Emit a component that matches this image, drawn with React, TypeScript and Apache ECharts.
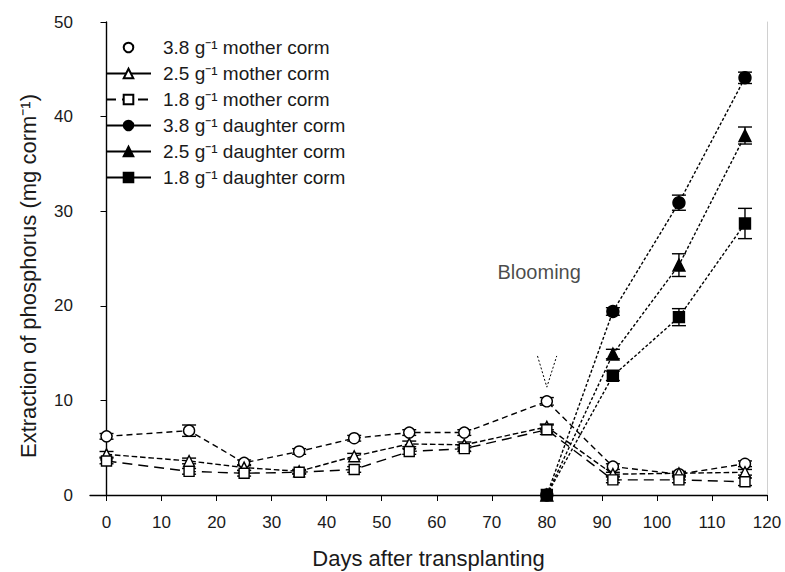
import React, { useEffect, useRef } from "react";
import * as echarts from "echarts";

const days = [0, 15, 25, 35, 45, 55, 65, 80, 92, 104, 116];
const mother38 = [6.2, 6.8, 3.4, 4.6, 6.0, 6.6, 6.6, 9.9, 3.0, 2.2, 3.3];
const mother25 = [4.3, 3.6, 2.9, 2.5, 4.1, 5.4, 5.3, 7.2, 2.2, 2.3, 2.4];
const mother18 = [3.6, 2.5, 2.3, 2.4, 2.7, 4.6, 4.9, 6.9, 1.6, 1.6, 1.4];
const mother38Err = [0.3, 0.6, 0.3, 0.3, 0.3, 0.3, 0.3, 0.4, 0.3, 0.2, 0.3];
const mother25Err = [0.3, 0.3, 0.3, 0.2, 0.3, 0.3, 0.3, 0.3, 0.2, 0.2, 0.3];
const mother18Err = [0.3, 0.3, 0.3, 0.2, 0.3, 0.3, 0.3, 0.5, 0.3, 0.3, 0.4];

const daughterDays = [80, 92, 104, 116];
const daughter38 = [0, 19.4, 30.9, 44.1];
const daughter25 = [0, 14.9, 24.3, 38.0];
const daughter18 = [0, 12.6, 18.8, 28.7];
const daughter38Err = [0, 0.4, 0.8, 0.6];
const daughter25Err = [0, 0.5, 1.2, 0.9];
const daughter18Err = [0, 0.5, 0.9, 1.6];

const xTicks = [0, 10, 20, 30, 40, 50, 60, 70, 80, 90, 100, 110, 120];
const seriesNames = [
  "3.8 g⁻¹ mother corm",
  "2.5 g⁻¹ mother corm",
  "1.8 g⁻¹ mother corm",
  "3.8 g⁻¹ daughter corm",
  "2.5 g⁻¹ daughter corm",
  "1.8 g⁻¹ daughter corm",
];
const xTitle = "Days after transplanting";
const yTitle = "Extraction of phosphorus (mg corm⁻¹)";
const bloomLabel = "Blooming";
const bloomPos = [78.6, 23.6];
const bloomArrow = [
  [78.3, 14.7],
  [80, 11.4],
  [81.8, 14.7],
];

const pair = (xs: number[], ys: number[]) => xs.map((x, i) => [x, ys[i]]);
const errData = (xs: number[], ys: number[], es: number[]) =>
  xs.map((x, i) => [x, ys[i] - es[i], ys[i] + es[i]]).filter((_, i) => es[i] > 0);

const FONT = "Liberation Sans, Arial, sans-serif";
const TXT = "#1a1a1a";

export default function App() {
  const ref = useRef<HTMLDivElement>(null);
  useEffect(() => {
    document.body.style.margin = "0";
    if (!ref.current) return;
    const chart = echarts.init(ref.current, undefined, { renderer: "svg" });

    const errSeries = (xs: number[], ys: number[], es: number[]) => ({
      type: "custom",
      silent: true,
      z: 3,
      data: errData(xs, ys, es),
      encode: { x: 0, y: [1, 2] },
      renderItem: (params: any, api: any) => {
        const x = api.value(0);
        const lo = api.coord([x, api.value(1)]);
        const hi = api.coord([x, api.value(2)]);
        const w = 7;
        const st = { stroke: "#000", lineWidth: 1.4 };
        return {
          type: "group",
          children: [
            { type: "line", shape: { x1: hi[0], y1: hi[1], x2: lo[0], y2: lo[1] }, style: st },
            { type: "line", shape: { x1: hi[0] - w, y1: hi[1], x2: hi[0] + w, y2: hi[1] }, style: st },
            { type: "line", shape: { x1: lo[0] - w, y1: lo[1], x2: lo[0] + w, y2: lo[1] }, style: st },
          ],
        };
      },
    });

    const lineSeries = (
      name: string,
      xs: number[],
      ys: number[],
      symbol: string,
      filled: boolean,
      size: number,
      lineType: any
    ) => ({
      type: "line",
      name,
      data: pair(xs, ys),
      symbol,
      symbolSize: size,
      z: 4,
      itemStyle: { color: filled ? "#000" : "#fff", borderColor: "#000", borderWidth: 1.4 },
      lineStyle: { color: "#000", width: 1.4, type: lineType },
    });

    chart.setOption({
      animation: false,
      backgroundColor: "#fff",
      grid: { left: 90, right: 18, top: 22, bottom: 77, outerBoundsMode: "none", containLabel: false },
      textStyle: { fontFamily: FONT },
      graphic: [
        {
          type: "text",
          x: 28,
          y: 276,
          rotation: Math.PI / 2,
          style: {
            text: yTitle,
            fontFamily: FONT,
            fontSize: 22,
            fill: TXT,
            align: "center",
            verticalAlign: "middle",
          },
        },
      ],
      legend: {
        orient: "vertical",
        left: 100,
        top: 33,
        itemWidth: 45,
        itemHeight: 12,
        itemGap: 7,
        textStyle: { fontFamily: FONT, fontSize: 19, color: TXT, padding: [0, 0, 0, 7] },
        data: [
          { name: seriesNames[0], lineStyle: { opacity: 0 } },
          { name: seriesNames[1], lineStyle: { type: "solid" } },
          { name: seriesNames[2], lineStyle: { type: [10, 6] } },
          { name: seriesNames[3], lineStyle: { type: "solid" } },
          { name: seriesNames[4], lineStyle: { type: "solid" } },
          { name: seriesNames[5], lineStyle: { type: "solid" } },
        ],
      },
      xAxis: {
        type: "value",
        min: -3,
        max: 120,
        name: xTitle,
        nameLocation: "middle",
        nameGap: 52,
        nameTextStyle: { fontFamily: FONT, fontSize: 22, color: TXT },
        splitLine: { show: false },
        axisLine: { lineStyle: { color: "#000", width: 1.4 } },
        axisTick: { customValues: xTicks, length: 6, lineStyle: { color: "#000" } },
        axisLabel: { customValues: xTicks, fontFamily: FONT, fontSize: 17, color: TXT, margin: 19 },
      },
      yAxis: [
        {
          type: "value",
          min: 0,
          max: 50,
          interval: 10,
          splitLine: { show: false },
          axisLine: { show: true, lineStyle: { color: "#000", width: 1.4 } },
          axisTick: { show: true, length: 6, lineStyle: { color: "#000" } },
          axisLabel: { fontFamily: FONT, fontSize: 17, color: TXT, margin: 17 },
        },
        {
          type: "value",
          position: "right",
          min: 0,
          max: 50,
          axisLine: { show: true, lineStyle: { color: "#d0d0d0", width: 1 } },
          axisTick: { show: false },
          axisLabel: { show: false },
          splitLine: { show: false },
        },
      ],
      series: [
        errSeries(days, mother38, mother38Err),
        errSeries(days, mother25, mother25Err),
        errSeries(days, mother18, mother18Err),
        errSeries(daughterDays, daughter38, daughter38Err),
        errSeries(daughterDays, daughter25, daughter25Err),
        errSeries(daughterDays, daughter18, daughter18Err),
        lineSeries(seriesNames[0], days, mother38, "circle", false, 11, [6, 4]),
        lineSeries(seriesNames[1], days, mother25, "triangle", false, 11, "dashed"),
        lineSeries(seriesNames[2], days, mother18, "rect", false, 10, [10, 6]),
        lineSeries(seriesNames[3], daughterDays, daughter38, "circle", true, 12, [3, 2]),
        lineSeries(seriesNames[4], daughterDays, daughter25, "triangle", true, 12, [3, 2]),
        lineSeries(seriesNames[5], daughterDays, daughter18, "rect", true, 11, [3, 2]),
        {
          type: "line",
          data: bloomArrow,
          symbol: "none",
          silent: true,
          lineStyle: { color: "#000", width: 1, type: [2, 2] },
        },
        {
          type: "scatter",
          data: [bloomPos],
          symbolSize: 0,
          silent: true,
          label: {
            show: true,
            position: "inside",
            formatter: bloomLabel,
            fontFamily: FONT,
            fontSize: 20,
            color: TXT,
          },
        },
      ],
    });
    return () => chart.dispose();
  }, []);
  return <div ref={ref} style={{ width: 785, height: 572 }} />;
}
